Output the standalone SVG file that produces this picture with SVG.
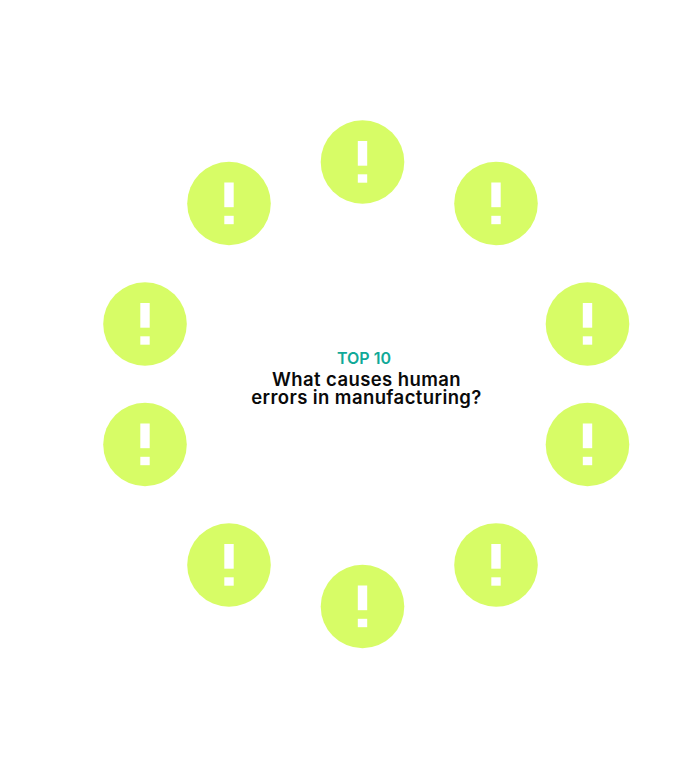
<svg xmlns="http://www.w3.org/2000/svg" width="700" height="769" viewBox="0 0 700 769">
<style>
.c{fill:#d7fc66}
.m{fill:#fff}
text{font-family:"Inter","Liberation Sans",sans-serif;text-anchor:middle;font-weight:600}
.t{font-size:16px;fill:#10a998}
.h{font-size:18.5px;letter-spacing:.4px;fill:#0a0a0a}
</style>
<defs>
<g id="alert">
<circle class="c" r="41.8"/>
<rect class="m" x="-4.7" y="-21" width="9.4" height="24.7"/>
<rect class="m" x="-4.7" y="12.3" width="9.4" height="8.4"/>
</g>
</defs>
<rect width="700" height="769" fill="#fff"/>
<g id="connectors"/>
<g id="node-1" transform="translate(362.5 162)"><use href="#alert"/></g>
<g id="node-2" transform="translate(496 203.5)"><use href="#alert"/></g>
<g id="node-3" transform="translate(587.500 324)"><use href="#alert"/></g>
<g id="node-4" transform="translate(587.500 444.500)"><use href="#alert"/></g>
<g id="node-5" transform="translate(496 565)"><use href="#alert"/></g>
<g id="node-6" transform="translate(362.500 606.500)"><use href="#alert"/></g>
<g id="node-7" transform="translate(229 565)"><use href="#alert"/></g>
<g id="node-8" transform="translate(145 444.500)"><use href="#alert"/></g>
<g id="node-9" transform="translate(145 324)"><use href="#alert"/></g>
<g id="node-10" transform="translate(229 203.500)"><use href="#alert"/></g>
<g id="title">
<text class="t" x="364" y="364">TOP 10</text>
<text class="h" x="366.500" y="386">What causes human</text>
<text class="h" x="366.500" y="403.500">errors in manufacturing?</text>
</g>
</svg>
